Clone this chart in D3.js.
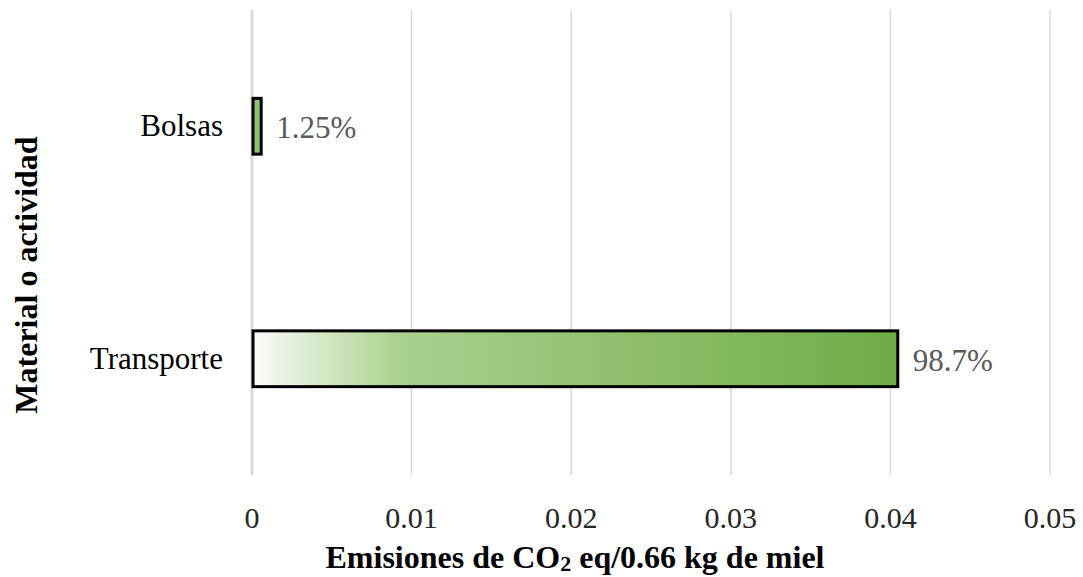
<!DOCTYPE html>
<html lang="es">
<head>
  <meta charset="UTF-8">
  <title>Emisiones de CO2</title>
  <script src="https://cdn.jsdelivr.net/npm/d3@7"></script>
  <style>
    body { margin: 0; background: #fff; }
    text { font-family: "Liberation Serif", "Times New Roman", serif; }
  </style>
</head>
<body>
  <svg width="1083" height="577"></svg>
<script>
  // datos
  const categories = ['Bolsas', 'Transporte'];
  const values = [0.000512, 0.0404];
  const labels = ['1.25%', '98.7%'];
  const xTicks = [0, 0.01, 0.02, 0.03, 0.04, 0.05];

  const svg = d3.select('svg');
  const margin = { top: 10, right: 33, bottom: 102, left: 252 };
  const innerWidth = 1083 - margin.left - margin.right;
  const innerHeight = 577 - margin.top - margin.bottom;

  // escalas en coordenadas absolutas
  const xScale = d3.scaleLinear().domain([0, 0.05]).range([margin.left, margin.left + innerWidth]);
  const yScale = d3.scaleBand().domain(categories).range([margin.top, margin.top + innerHeight])
    .paddingInner(0.76)
    .paddingOuter(0.38);

  // gradiente de la barra
  const grad = svg.append('defs').append('linearGradient')
    .attr('id', 'barGrad')
    .attr('x1', '0%').attr('x2', '100%').attr('y1', '0%').attr('y2', '0%');
  grad.append('stop').attr('offset', '0%').attr('stop-color', '#fafcf8');
  grad.append('stop').attr('offset', '23%').attr('stop-color', '#a9d18e');
  grad.append('stop').attr('offset', '100%').attr('stop-color', '#6eab45');

  // lineas de cuadricula
  svg.append('g')
    .selectAll('line')
    .data(xTicks)
    .join('line')
    .attr('x1', d => xScale(d))
    .attr('x2', d => xScale(d))
    .attr('y1', margin.top)
    .attr('y2', margin.top + innerHeight)
    .attr('stroke', '#d9d9d9')
    .attr('stroke-width', d => d === 0 ? 3 : 1.5);

  // etiquetas eje x
  svg.selectAll('.xlabel')
    .data(xTicks)
    .join('text')
    .attr('class', 'xlabel')
    .attr('x', d => xScale(d))
    .attr('y', margin.top + innerHeight + 53)
    .attr('text-anchor', 'middle')
    .attr('font-size', '30px')
    .attr('fill', '#262626')
    .text(d => d === 0 ? '0' : d3.format('.2f')(d));

  // barras
  svg.append('g')
    .selectAll('rect')
    .data(values)
    .join('rect')
    .attr('x', xScale(0) + 1)
    .attr('y', (d, i) => yScale(categories[i]))
    .attr('width', d => xScale(d) - xScale(0))
    .attr('height', yScale.bandwidth())
    .attr('fill', (d, i) => i === 0 ? '#8fc16e' : 'url(#barGrad)')
    .attr('stroke', '#000')
    .attr('stroke-width', 3);

  // etiquetas de datos
  svg.selectAll('.dlabel')
    .data(values)
    .join('text')
    .attr('class', 'dlabel')
    .attr('x', d => xScale(d) + 16)
    .attr('y', (d, i) => yScale(categories[i]) + yScale.bandwidth() / 2 + 12)
    .attr('font-size', '31px')
    .attr('fill', '#595959')
    .text((d, i) => labels[i]);

  // categorias
  svg.selectAll('.ylabel')
    .data(categories)
    .join('text')
    .attr('class', 'ylabel')
    .attr('x', margin.left - 29)
    .attr('y', d => yScale(d) + yScale.bandwidth() / 2 + 10)
    .attr('text-anchor', 'end')
    .attr('font-size', '31px')
    .attr('fill', '#000')
    .text(d => d);

  // titulo eje x
  const xt = svg.append('text')
    .attr('x', 575)
    .attr('y', 568)
    .attr('text-anchor', 'middle')
    .attr('font-size', '32px')
    .attr('font-weight', 'bold');
  xt.append('tspan').text('Emisiones de CO');
  xt.append('tspan').attr('font-size', '22px').attr('dy', 3).text('2');
  xt.append('tspan').attr('dy', -3).text(' eq/0.66 kg de miel');

  // titulo eje y
  svg.append('text')
    .attr('transform', 'translate(37,275) rotate(-90)')
    .attr('text-anchor', 'middle')
    .attr('font-size', '32px')
    .attr('font-weight', 'bold')
    .text('Material o actividad');
</script>
</body>
</html>
